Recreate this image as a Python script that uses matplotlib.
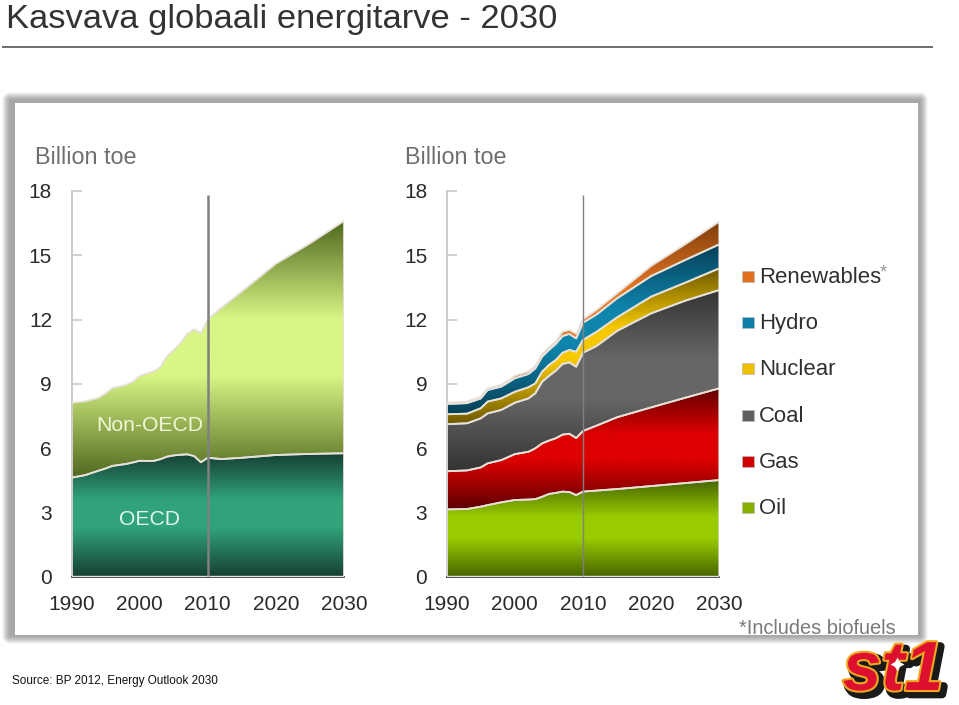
import numpy as np
import matplotlib
matplotlib.use("Agg")
import matplotlib.pyplot as plt
from matplotlib.colors import LinearSegmentedColormap
from matplotlib.patches import Rectangle, Polygon
import matplotlib.patheffects as pe

plt.rcParams['font.family'] = ['Liberation Sans', 'DejaVu Sans']

# ---- data (billion toe, cumulative tops of the stacked bands) ----
left_years = [1990, 1992, 1994, 1995, 1996, 1998, 1999, 2000, 2002, 2003, 2004, 2005,
              2006, 2007, 2008, 2009, 2010, 2012, 2015, 2020, 2025, 2030]
oecd_top = [4.62, 4.74, 4.95, 5.05, 5.17, 5.26, 5.33, 5.41, 5.40, 5.48, 5.60, 5.66,
            5.69, 5.71, 5.63, 5.34, 5.55, 5.49, 5.55, 5.68, 5.73, 5.76]
total_top = [8.12, 8.18, 8.35, 8.55, 8.80, 8.95, 9.10, 9.37, 9.57, 9.77, 10.27, 10.58,
             10.90, 11.33, 11.55, 11.36, 12.00, 12.55, 13.30, 14.60, 15.55, 16.60]

right_years = [1990, 1993, 1995, 1996, 1998, 2000, 2002, 2003, 2004, 2005, 2006, 2007,
               2008, 2009, 2010, 2012, 2015, 2020, 2025, 2030]
oil_top = [3.14, 3.16, 3.27, 3.34, 3.47, 3.58, 3.60, 3.62, 3.73, 3.86, 3.91, 3.97,
           3.95, 3.81, 3.97, 4.02, 4.09, 4.23, 4.37, 4.51]
gas_top = [4.92, 4.96, 5.10, 5.29, 5.44, 5.72, 5.83, 5.99, 6.22, 6.35, 6.46, 6.63,
           6.67, 6.47, 6.80, 7.05, 7.44, 7.90, 8.35, 8.79]
coal_top = [7.12, 7.16, 7.39, 7.62, 7.78, 8.12, 8.32, 8.56, 9.10, 9.37, 9.61, 9.93,
            10.00, 9.80, 10.45, 10.77, 11.47, 12.29, 12.88, 13.38]
nuclear_top = [7.58, 7.61, 7.86, 8.17, 8.32, 8.63, 8.84, 9.02, 9.57, 9.88, 10.11, 10.45,
               10.58, 10.50, 11.05, 11.43, 12.10, 13.07, 13.72, 14.39]
hydro_top = [8.06, 8.10, 8.32, 8.71, 8.87, 9.26, 9.46, 9.72, 10.27, 10.58, 10.86, 11.23,
             11.33, 11.12, 11.85, 12.24, 12.99, 14.03, 14.78, 15.51]
renew_top = [8.12, 8.17, 8.40, 8.79, 8.95, 9.37, 9.57, 9.83, 10.39, 10.70, 10.97, 11.43,
             11.51, 11.33, 12.00, 12.45, 13.22, 14.50, 15.51, 16.57]

y_ticks = [0, 3, 6, 9, 12, 15, 18]
x_ticks = [1990, 2000, 2010, 2020, 2030]
legend_labels = ['Renewables', 'Hydro', 'Nuclear', 'Coal', 'Gas', 'Oil']
legend_colors = ['#E0701E', '#0E7FA8', '#EFC000', '#5E5E5E', '#D00000', '#86B000']

W, H = 959, 705
fig = plt.figure(figsize=(W / 100, H / 100), dpi=100, facecolor='white')

# ---- overlay in pixel coordinates ----
bg = fig.add_axes([0, 0, 1, 1], zorder=0)
bg.set_xlim(0, W); bg.set_ylim(H, 0); bg.axis('off')

# title, rule
bg.text(6, 28, 'Kasvava globaali energitarve - 2030', fontsize=24.8, color='#333333',
        ha='left', va='baseline')
bg.plot([2, 933], [47, 47], color='#555555', lw=1.2, solid_capstyle='butt')

# panel with soft shadow (decoration raster)
px, py = np.meshgrid(np.arange(W) + 0.5, np.arange(H) + 0.5)
dx = np.maximum(np.maximum(10 - px, px - 920), 0)
dy = np.maximum(np.maximum(100 - py, py - 636), 0)
t = np.clip(np.hypot(dx, dy) / 8.0, 0, 1)
shade = 0.66 + (1 - 0.66) * t ** 1.3
bg.imshow(shade, extent=(0, W, H, 0), cmap='gray', vmin=0, vmax=1, aspect='auto',
          zorder=0, interpolation='nearest')
bg.set_xlim(0, W); bg.set_ylim(H, 0)
bg.add_patch(Rectangle((15, 103), 903, 532, fc='white', ec='none', zorder=1))


def grad_band(ax, x, y0, y1, dark, bright, x_min=1990, x_max=2030):
    x = np.asarray(x, float)
    y0 = np.asarray(y0, float)
    y1 = np.asarray(y1, float)
    lo, hi = y0.min(), y1.max()
    cmap = LinearSegmentedColormap.from_list(
        'g', [(0, dark), (0.40, bright), (0.62, bright), (1, dark)])
    g = np.linspace(0, 1, 256).reshape(-1, 1)
    im = ax.imshow(g, extent=(x_min, x_max, lo, hi), origin='lower', aspect='auto',
                   cmap=cmap, zorder=2, interpolation='bilinear')
    verts = np.vstack([np.column_stack([x, y1]), np.column_stack([x[::-1], y0[::-1]])])
    poly = Polygon(verts, closed=True, fc='none', ec='#E6E0D8', lw=1.3, zorder=3,
                   joinstyle='round')
    ax.add_patch(poly)
    im.set_clip_path(poly)


def make_axes(x0, x1):
    y0, y1 = 576.7, 191.0
    ax = fig.add_axes([x0 / W, (H - y0) / H, (x1 - x0) / W, (y0 - y1) / H], zorder=2)
    ax.patch.set_alpha(0)
    for s in ('top', 'right'):
        ax.spines[s].set_visible(False)
    ax.spines['left'].set_color('#C8C8C8')
    ax.spines['left'].set_linewidth(1.3)
    ax.spines['bottom'].set_color('#333333')
    ax.spines['bottom'].set_linewidth(1.2)
    ax.set_xlim(1990, 2030); ax.set_ylim(0, 18)
    ax.set_xticks(x_ticks); ax.set_yticks(y_ticks)
    ax.tick_params(axis='x', length=0, pad=13, labelsize=15, labelcolor='#2a2a2a')
    ax.tick_params(axis='y', direction='in', length=7, width=1.2, color='#C8C8C8',
                   pad=14, labelsize=15, labelcolor='#2a2a2a')
    return ax


# left chart
axL = make_axes(71.5, 344)
grad_band(axL, left_years, np.zeros(len(left_years)), oecd_top, '#153F33', '#31A37B')
grad_band(axL, left_years, oecd_top, total_top, '#50681E', '#D8F686')
axL.plot([2010, 2010], [0.05, 17.82], color='#808080', lw=1.8, zorder=5,
         solid_capstyle='butt')
axL.text(2001.5, 7.05, 'Non-OECD', color='#F2F6D8', fontsize=15.2, ha='center',
         va='center', zorder=6)
axL.text(2001.5, 2.68, 'OECD', color='#E0F5EE', fontsize=15.2, ha='center',
         va='center', zorder=6)

# right chart
axR = make_axes(446.7, 719.3)
zeros = np.zeros(len(right_years))
grad_band(axR, right_years, zeros, oil_top, '#466400', '#99CC00')
grad_band(axR, right_years, oil_top, gas_top, '#5F0000', '#DC0000')
grad_band(axR, right_years, gas_top, coal_top, '#343434', '#666666')
grad_band(axR, right_years, coal_top, nuclear_top, '#6E5A00', '#F5C800')
grad_band(axR, right_years, nuclear_top, hydro_top, '#063F57', '#0F85AD')
grad_band(axR, right_years, hydro_top, renew_top, '#7F3E0C', '#E87722')
axR.plot([2010, 2010], [0.05, 17.82], color='#808080', lw=1.0, zorder=5,
         solid_capstyle='butt')

# overlay text on top of everything
fg = fig.add_axes([0, 0, 1, 1], zorder=3)
fg.set_xlim(0, W); fg.set_ylim(H, 0); fg.axis('off'); fg.patch.set_alpha(0)

fg.text(35, 158, 'Billion toe', fontsize=16.8, color='#6E6E6E', va='center', ha='left')
fg.text(405, 158, 'Billion toe', fontsize=16.8, color='#6E6E6E', va='center', ha='left')

for lab, col, yc in zip(legend_labels, legend_colors, [276, 322, 368, 415, 461, 507]):
    fg.add_patch(Rectangle((742, yc - 5.5), 11.5, 11, fc=col, ec='#BBBBBB', lw=0.5))
    fg.text(759, yc + 1.5, lab, fontsize=15.9, color='#303030', va='center', ha='left')
fg.text(880, 273, '*', fontsize=13, color='#999999', va='center', ha='left')
fg.text(739, 629, '*Includes biofuels', fontsize=14.4, color='#7A7A7A', va='center', ha='left')
fg.text(12, 681, 'Source: BP 2012, Energy Outlook 2030', fontsize=8.5, color='#111111',
        va='center', ha='left')

# logo
fg.text(893, 690, 'st1', fontsize=50, fontweight='bold', style='italic', color='#DD1030',
        ha='center', va='baseline', zorder=5,
        path_effects=[pe.Stroke(linewidth=6, foreground='#1A1A1A', offset=(3, -3)),
                      pe.Stroke(linewidth=3, foreground='#EFA81E'),
                      pe.Normal()])
fg.plot([897], [664], marker=(4, 1, 0), ms=10, color='white', mec='none', zorder=6)

fig.savefig('out.png', dpi=100, facecolor='white')
